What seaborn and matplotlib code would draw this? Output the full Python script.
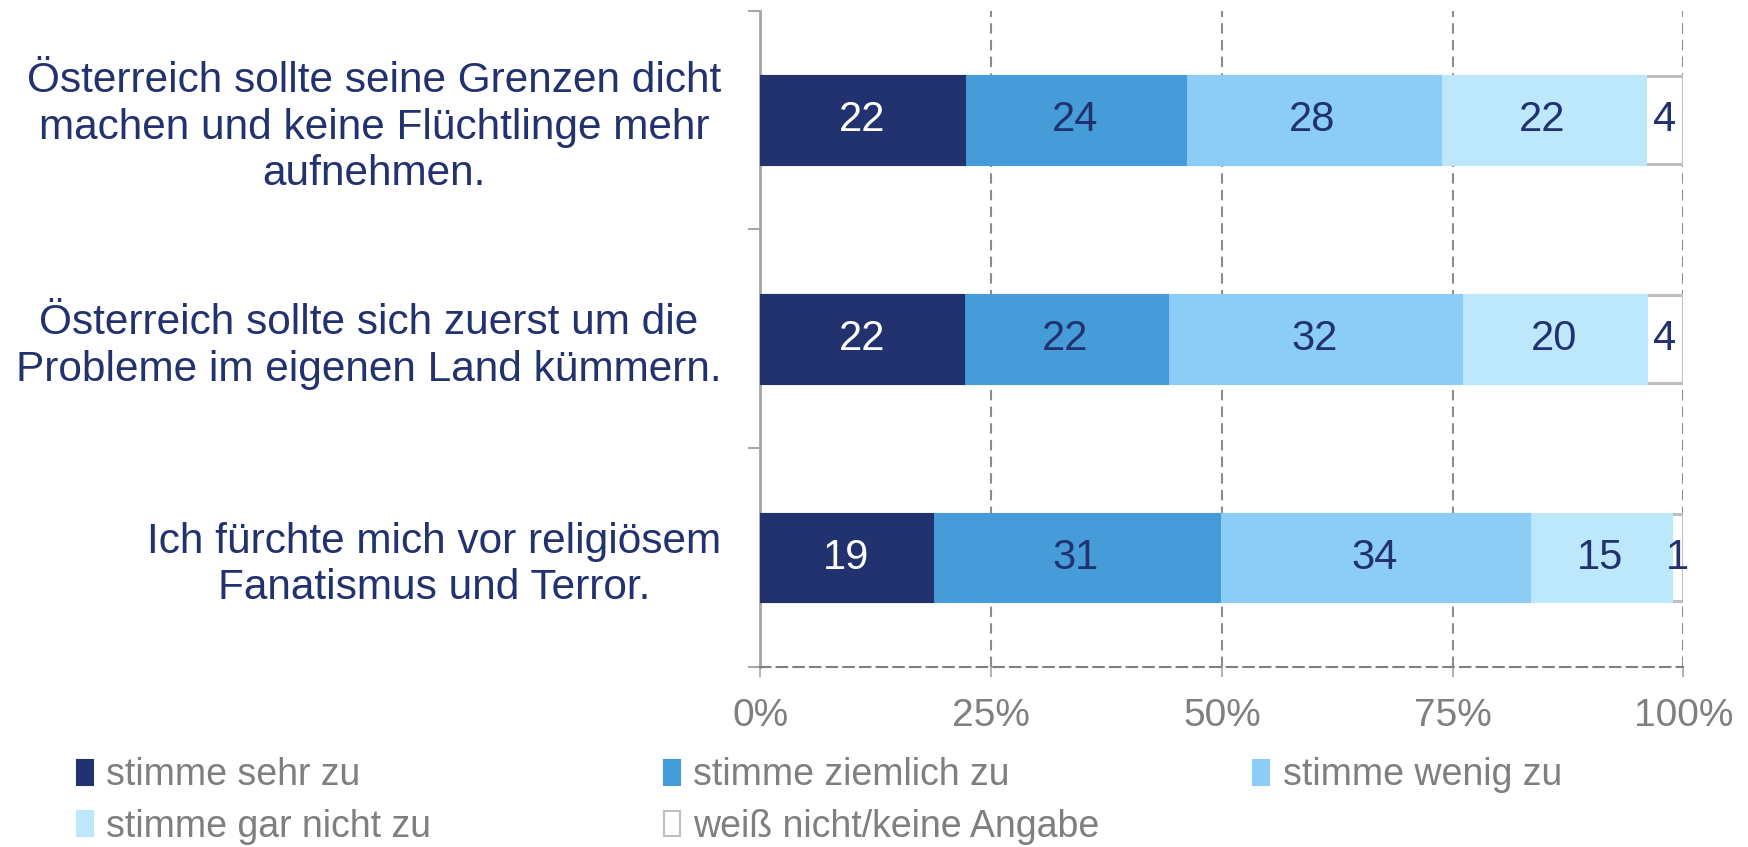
import pandas as pd
import matplotlib.pyplot as plt
import seaborn as sns
import numpy as np
from matplotlib.patches import Patch

# data (percent)
statements = ['Österreich sollte seine Grenzen dicht\nmachen und keine Flüchtlinge mehr\naufnehmen.',
              'Österreich sollte sich zuerst um die\nProbleme im eigenen Land kümmern.',
              'Ich fürchte mich vor religiösem\nFanatismus und Terror.']
answers = ['stimme sehr zu', 'stimme ziemlich zu', 'stimme wenig zu',
           'stimme gar nicht zu', 'weiß nicht/keine Angabe']
sehr_zu = [22.1, 22.0, 18.6]
ziemlich_zu = [23.9, 22.1, 31.1]
wenig_zu = [27.6, 31.8, 33.6]
gar_nicht_zu = [22.3, 20.1, 15.4]
weiss_nicht = [4.1, 4.0, 1.3]
x_ticks = [0, 25, 50, 75, 100]
x_ticklabels = ['0%', '25%', '50%', '75%', '100%']

colors = ['#22326f', '#469bd9', '#8ccdf5', '#bde7fb', '#ffffff']
text_colors = ['white', '#22326f', '#22326f', '#22326f', '#22326f']
navy = '#22326f'
grey = '#7f7f7f'

sns.set_style('white')
plt.rcParams['font.family'] = ['Liberation Sans', 'DejaVu Sans']

df = pd.DataFrame({'statement': statements})
series = [sehr_zu, ziemlich_zu, wenig_zu, gar_nicht_zu, weiss_nicht]
for name, vals in zip(answers, series):
    df[name] = vals
cum = df[answers].cumsum(axis=1)

fig = plt.figure(figsize=(17.48, 8.47), dpi=100)
ax = fig.add_axes([0.435, 0.2125, 0.528, 0.775])

# stacked bars: draw cumulative totals from longest to shortest
for i in range(len(answers) - 1, -1, -1):
    is_last = i == len(answers) - 1
    sns.barplot(x=cum[answers[i]], y=df['statement'], orient='h', order=statements,
                color=colors[i], saturation=1, width=0.4, ax=ax,
                edgecolor='#bfbfbf' if is_last else colors[i], linewidth=2.2, zorder=3)

# value labels
for i, name in enumerate(answers):
    centers = cum[name] - df[name] / 2
    for j, (c, v) in enumerate(zip(centers, df[name])):
        ax.text(c, j, f'{v:.0f}', ha='center', va='center', fontsize=30,
                color=text_colors[i], zorder=5)

ax.set_xlim(0, 100)
ax.set_ylim(2.5, -0.5)
ax.set_xlabel('')
ax.set_ylabel('')
ax.set_xticks(x_ticks)
ax.set_xticklabels(x_ticklabels, fontsize=28, color=grey)
ax.tick_params(axis='x', length=7, width=1.2, color='#a6a6a6', pad=15, direction='out',
               bottom=True)
ax.set_yticks(range(len(statements)))
ax.set_yticklabels(statements, fontsize=30.5, color=navy, multialignment='center')
ax.tick_params(axis='y', which='major', length=0, pad=28)
ax.set_yticks([-0.5, 0.5, 1.5, 2.5], minor=True)
ax.tick_params(axis='y', which='minor', length=9, width=1.5, color='#a6a6a6',
               direction='out', left=True)

ax.grid(False)
for xv in x_ticks[1:]:
    ax.axvline(xv, color='#8c8c8c', lw=1.5, ls=(0, (5, 3)), zorder=1)
for s in ['top', 'right']:
    ax.spines[s].set_visible(False)
ax.spines['left'].set_color('#a6a6a6')
ax.spines['left'].set_linewidth(2)
ax.spines['bottom'].set_color('#7f7f7f')
ax.spines['bottom'].set_linewidth(1.5)
ax.spines['bottom'].set_linestyle((0, (5, 3)))

# legend: three columns placed separately
handles = [Patch(facecolor=c, edgecolor='#bfbfbf' if c == '#ffffff' else c, linewidth=1.5)
           for c in colors]
cols = [[0, 3], [1, 4], [2]]
x_pos = [0.044, 0.380, 0.717]
for xp, idx in zip(x_pos, cols):
    fig.legend([handles[k] for k in idx], [answers[k] for k in idx],
               loc='upper left', bbox_to_anchor=(xp, 0.106), frameon=False,
               fontsize=27, labelcolor=grey, handlelength=0.43, handleheight=0.65,
               handletextpad=0.35, labelspacing=0.42, borderpad=0, borderaxespad=0)

plt.savefig('out.png', dpi=100)
